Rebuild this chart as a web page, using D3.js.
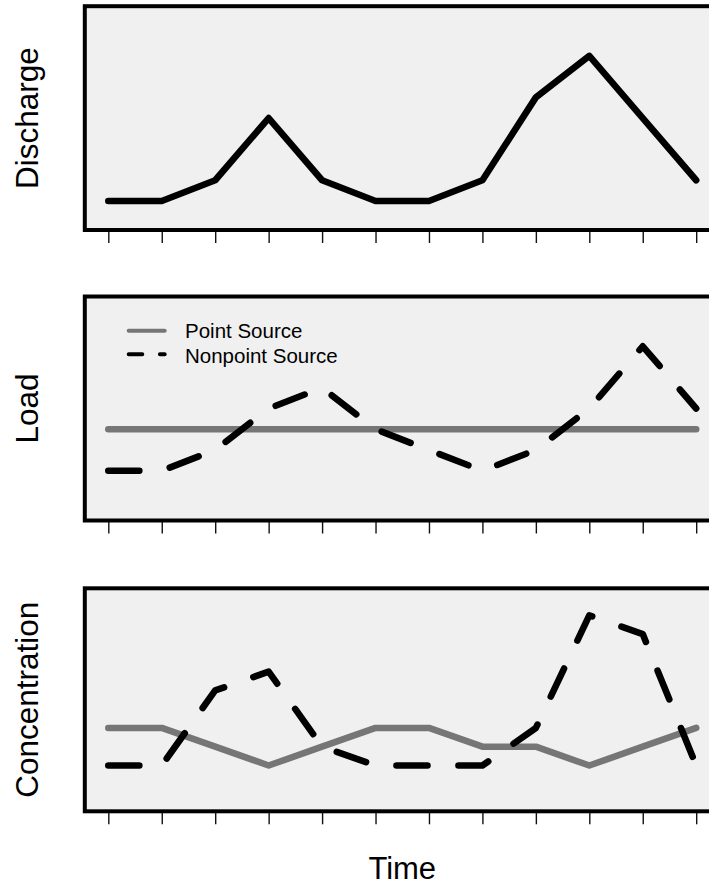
<!DOCTYPE html>
<html>
<head>
<meta charset="utf-8">
<script src="https://cdn.jsdelivr.net/npm/d3@7"></script>
<style>
  html, body { margin: 0; padding: 0; background: #ffffff; }
  svg { display: block; }
  text { font-family: "Liberation Sans", Arial, Helvetica, sans-serif; fill: #000; }
</style>
</head>
<body>
<svg id="chart" width="709" height="886"></svg>
<script>
// Time steps (x positions) shared by all panels
const time = [1, 2, 3, 4, 5, 6, 7, 8, 9, 10, 11, 12];

// Discharge hydrograph
const discharge = [1, 1, 2, 5, 2, 1, 1, 2, 6, 8, 5, 2];

// Loads from each source
const loadPoint = [4, 4, 4, 4, 4, 4, 4, 4, 4, 4, 4, 4];
const loadNonpoint = [2, 2, 3, 5, 6, 4, 3, 2, 3, 5, 8, 5];

// Resulting concentrations
const concPoint = [3, 3, 2, 1, 2, 3, 3, 2, 2, 1, 2, 3];
const concNonpoint = [1, 1, 5, 6, 2, 1, 1, 1, 3, 9, 8, 1];

// Panel titles and y ranges
const panelLabels = ["Discharge", "Load", "Concentration"];
const yLimits = [[0, 10], [0, 10], [-1, 10]];
const legendLabels = ["Point Source", "Nonpoint Source"];
const xLabel = "Time";

const svg = d3.select("#chart");

// Plot region geometry (R-style: axes extended 4% beyond the data range)
const left = 84.8, right = 719.7;
const panels = [
  { top: 6.2, bottom: 230 },
  { top: 296.5, bottom: 520.5 },
  { top: 588.3, bottom: 811.3 }
];

function padded(lim) {
  const d = (lim[1] - lim[0]) * 0.04;
  return [lim[0] - d, lim[1] + d];
}

const x = d3.scaleLinear().domain(padded([1, 12])).range([left, right]);

const LW = 6.6;
const grayCol = "#767676";
const dash = "31,31";

const series = [
  [{ values: discharge, color: "#000", dashed: false }],
  [{ values: loadPoint, color: grayCol, dashed: false },
   { values: loadNonpoint, color: "#000", dashed: true }],
  [{ values: concPoint, color: grayCol, dashed: false },
   { values: concNonpoint, color: "#000", dashed: true }]
];

panels.forEach((p, i) => {
  const y = d3.scaleLinear().domain(padded(yLimits[i])).range([p.bottom, p.top]);
  const g = svg.append("g");

  // panel background
  g.append("rect")
    .attr("x", left).attr("y", p.top)
    .attr("width", right - left).attr("height", p.bottom - p.top)
    .attr("fill", "#f0f0f0");

  // data lines
  const line = d3.line().x((d, k) => x(time[k])).y(d => y(d));
  series[i].forEach(s => {
    g.append("path")
      .datum(s.values)
      .attr("d", line)
      .attr("fill", "none")
      .attr("stroke", s.color)
      .attr("stroke-width", LW)
      .attr("stroke-linecap", "round")
      .attr("stroke-linejoin", "round")
      .attr("stroke-dasharray", s.dashed ? dash : null);
  });

  // bottom axis: ticks only, no labels
  const axis = d3.axisBottom(x).tickValues(time).tickSize(13).tickFormat("");
  const ax = g.append("g").attr("transform", `translate(0,${p.bottom})`).call(axis);
  ax.select(".domain").remove();
  ax.selectAll(".tick line").attr("stroke", "#111").attr("stroke-width", 1.4);

  // frame
  g.append("rect")
    .attr("x", left).attr("y", p.top)
    .attr("width", right - left).attr("height", p.bottom - p.top)
    .attr("fill", "none").attr("stroke", "#000").attr("stroke-width", 4);

  // y label
  svg.append("text")
    .attr("transform", `translate(38,${(p.top + p.bottom) / 2}) rotate(-90)`)
    .attr("text-anchor", "middle")
    .style("font-size", "31.5px")
    .text(panelLabels[i]);
});

// legend in the Load panel
const leg = svg.append("g");
leg.append("line")
  .attr("x1", 128.7).attr("x2", 164.7).attr("y1", 330.7).attr("y2", 330.7)
  .attr("stroke", grayCol).attr("stroke-width", 4).attr("stroke-linecap", "round");
leg.append("line")
  .attr("x1", 128.7).attr("x2", 164.7).attr("y1", 354.3).attr("y2", 354.3)
  .attr("stroke", "#000").attr("stroke-width", 4).attr("stroke-linecap", "round")
  .attr("stroke-dasharray", "13.6,17.6");
legendLabels.forEach((t, k) => {
  leg.append("text")
    .attr("x", 185).attr("y", 338.3 + k * 24.4)
    .style("font-size", "20.5px")
    .text(t);
});

// x label
svg.append("text")
  .attr("x", (left + right) / 2).attr("y", 879)
  .attr("text-anchor", "middle")
  .style("font-size", "31px")
  .text(xLabel);
</script>
</body>
</html>
